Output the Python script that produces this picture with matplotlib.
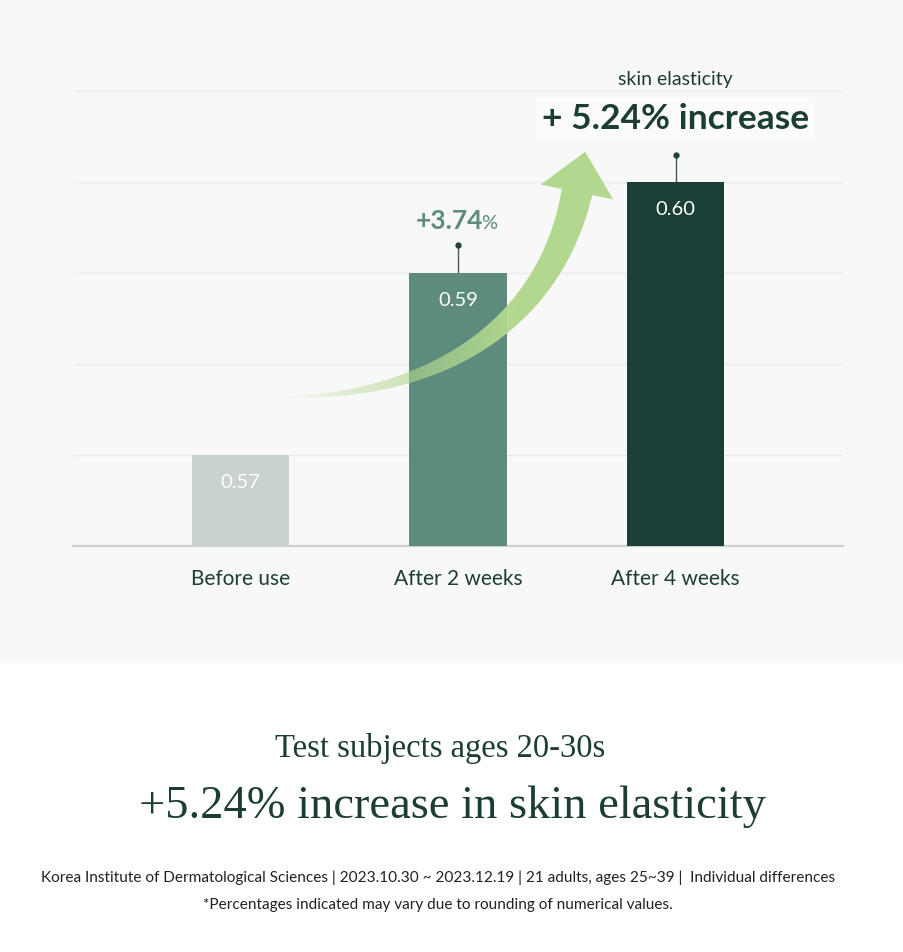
import matplotlib
matplotlib.use("Agg")
import matplotlib.pyplot as plt
import numpy as np
from matplotlib.patches import Polygon, Rectangle

categories = ["Before use", "After 2 weeks", "After 4 weeks"]
values = [0.57, 0.59, 0.60]
errors = [0.0, 0.0031, 0.0030]
value_labels = ["0.57", "0.59", "0.60"]
bar_colors = ["#c9d2cf", "#5d8b7e", "#193f36"]
grid_values = [0.57, 0.58, 0.59, 0.60, 0.61]

DARK = "#1c3d33"
MID = "#5d8b7e"
SANS = ["Lato", "DejaVu Sans"]
SERIF = ["Liberation Serif", "DejaVu Serif"]

W, H = 904, 953
fig = plt.figure(figsize=(W / 100, H / 100), dpi=100)
fig.patch.set_facecolor("white")
fig.patches.append(Rectangle((0, 1 - 664 / H), 1, 664 / H, transform=fig.transFigure,
                             facecolor="#f8f8f8", edgecolor="none", zorder=-5))

ax = fig.add_axes([73 / W, (H - 547) / H, 770 / W, 500.5 / H], zorder=1)
ax.set_facecolor("none")
ax.set_ylim(0.56, 0.615)
ax.set_xlim(-0.77, 2.77)
x = np.arange(len(categories))
ax.bar(x, [v - 0.56 for v in values], bottom=0.56, width=0.447, color=bar_colors, zorder=3)

# error whiskers (upper only) with dot cap
for xi, v, e in zip(x, values, errors):
    if e > 0:
        ax.plot([xi, xi], [v, v + e], color="#3e5e55", lw=1, zorder=2)
        ax.plot([xi], [v + e], "o", ms=3.5, color="#1f3f35", zorder=2)

for xi, v, lab in zip(x, values, value_labels):
    ax.annotate(lab, (xi, v), xytext=(0, -19), textcoords="offset points",
                ha="center", va="center", color="white", fontsize=14.5,
                family=SANS, zorder=4)

ax.set_yticks(grid_values)
ax.set_yticklabels([])
ax.grid(axis="y", color="#ebebeb", lw=1, zorder=0)
ax.tick_params(axis="y", length=0)
ax.set_xticks(x)
ax.set_xticklabels(categories, fontsize=15, color=DARK, family=SANS)
ax.tick_params(axis="x", length=0, pad=16)
for s in ["top", "left", "right"]:
    ax.spines[s].set_visible(False)
ax.spines["bottom"].set_color("#cfcfcf")
ax.spines["bottom"].set_linewidth(1.6)

# callouts above bars
ax.text(1.115, 0.5949, "+3.74", ha="right", va="baseline", fontsize=19,
        fontweight="bold", color=MID, family=SANS)
ax.text(1.108, 0.5949, "%", ha="left", va="baseline", fontsize=14.5,
        color=MID, family=SANS)
ax.text(2, 0.6108, "skin elasticity", ha="center", va="baseline", fontsize=14,
        color=DARK, family=SANS)
ax.text(2, 0.6059, "+ 5.24% increase", ha="center", va="baseline", fontsize=25.5,
        fontweight="bold", color=DARK, family=SANS,
        bbox=dict(facecolor="#fbfbfb", edgecolor="none", pad=4))

# curved gradient arrow (decoration, pixel coordinates)
deco = fig.add_axes([0, 0, 1, 1], zorder=5)
deco.set_xlim(0, W)
deco.set_ylim(H, 0)
deco.axis("off")
deco.patch.set_alpha(0)

P = np.array([[283, 398], [430, 398], [549, 330], [577, 193]], float)
t = np.linspace(0, 1, 120)[:, None]
curve = ((1 - t) ** 3) * P[0] + 3 * ((1 - t) ** 2) * t * P[1] + 3 * (1 - t) * t ** 2 * P[2] + t ** 3 * P[3]
deriv = 3 * ((1 - t) ** 2) * (P[1] - P[0]) + 6 * (1 - t) * t * (P[2] - P[1]) + 3 * t ** 2 * (P[3] - P[2])
tang = deriv / np.linalg.norm(deriv, axis=1, keepdims=True)
norm = np.column_stack([-tang[:, 1], tang[:, 0]])
half = 15.5 * t[:, 0] ** 0.9
left = curve + norm * half[:, None]
right = curve - norm * half[:, None]
d = tang[-1]
n = np.array([-d[1], d[0]])
base = P[3]
head = [base + n * 37, base + d * 41, base - n * 37]
verts = np.vstack([left, [base + n * 15.5], head, [base - n * 15.5], right[::-1]])
arrow = Polygon(verts, closed=True, facecolor="none", edgecolor="none")
deco.add_patch(arrow)

gx = np.linspace(270, 640, 300)
alpha = np.clip((gx - 283) / (520 - 283), 0, 1) ** 0.8
rgba = np.zeros((2, gx.size, 4))
rgba[..., :3] = matplotlib.colors.to_rgb("#b2d88e")
rgba[..., 3] = alpha
img = deco.imshow(rgba, extent=(270, 640, 410, 140), aspect="auto", interpolation="bilinear")
img.set_clip_path(arrow)

# bottom headline and notes
fig.text(440 / W, 1 - 757 / H, "Test subjects ages 20-30s", ha="center", va="baseline",
         fontsize=23.5, color=DARK, family=SERIF)
fig.text(452 / W, 1 - 818 / H, "+5.24% increase in skin elasticity", ha="center", va="baseline",
         fontsize=33.5, color=DARK, family=SERIF)
fig.text(438 / W, 1 - 882 / H,
         "Korea Institute of Dermatological Sciences | 2023.10.30 ~ 2023.12.19 | 21 adults, ages 25~39 |  Individual differences",
         ha="center", va="baseline", fontsize=11.1, color="#222222", family=SANS)
fig.text(438 / W, 1 - 909 / H, "*Percentages indicated may vary due to rounding of numerical values.",
         ha="center", va="baseline", fontsize=11.1, color="#222222", family=SANS)

fig.savefig("out.png", dpi=100)
